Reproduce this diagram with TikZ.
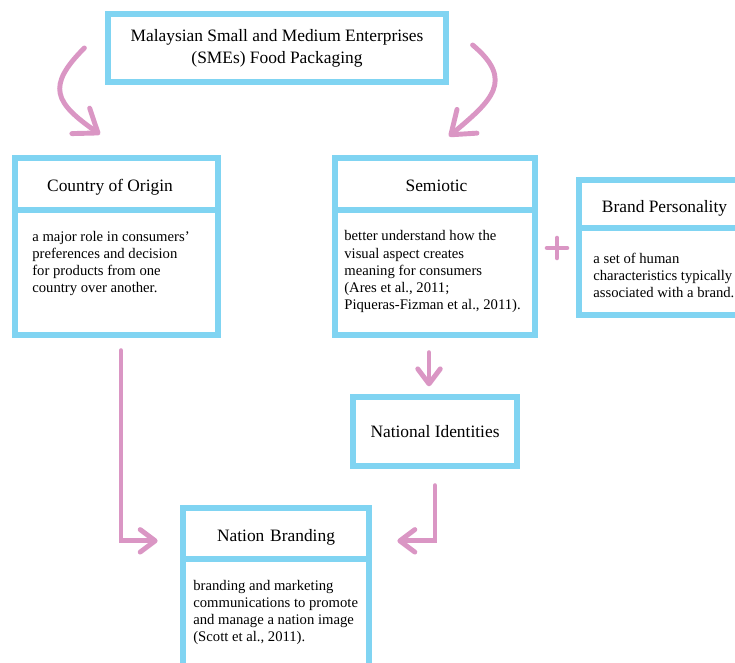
\documentclass[tikz,border=0pt]{standalone}
\usepackage{fontspec}
\setmainfont{Liberation Serif}
\usetikzlibrary{arrows.meta}

\definecolor{boxblue}{RGB}{128,212,242}
\definecolor{linkpink}{RGB}{218,150,196}

\tikzstyle{frame}=[rectangle, draw=boxblue, line width=3pt, inner sep=0cm]
\tikzstyle{heading}=[inner sep=0cm, anchor=base, align=center,
                     font=\fontsize{9.9}{12.4}\selectfont]
\tikzstyle{blurb}=[inner sep=0cm, anchor=base west, align=left,
                   font=\fontsize{8.35}{9.85}\selectfont]
\tikzstyle{divider}=[draw=boxblue, line width=3pt]
\tikzstyle{link}=[draw=linkpink, line width=2.8pt, line cap=round,
                  -{Straight Barb[length=0.3cm, width=0.45cm, round]}]

\begin{document}
\begin{tikzpicture}

  \clip (0, 0) rectangle (14.7, 13.26);

  %%%%%%%%%%%%%%%%%%%%%%%%%%%%%%
  %%%%%%%%%%%%%%%%%%%%%%%%%%%%%%
  % framework

  %%%%%%%%%%%%%%%%%%%%%%%%%%%%%%
  % boxes
  % top
  \node (sme) at (5.54, 12.30) [frame, minimum width=6.76cm, minimum height=1.36cm,
        align=center, font=\fontsize{9.9}{12.4}\selectfont]
        {Malaysian Small and Medium Enterprises\\(SMEs) Food Packaging};

  % country of origin (text anchored at its last line)
  \node (coo) at (2.33, 8.33) [frame, minimum width=4.06cm, minimum height=3.54cm] {};
  \node (coo_title) at (2.2, 9.43) [heading] {Country of Origin};
  \node (coo_text) at (0.64, 7.40) [blurb]
        {a major role in consumers’\\preferences and decision\\for products from one\\country over another.};

  % semiotic
  \node (sem) at (8.70, 8.33) [frame, minimum width=4.0cm, minimum height=3.54cm] {};
  \node (sem_title) at (8.73, 9.42) [heading] {Semiotic};
  \node (sem_text) at (6.88, 7.06) [blurb]
        {better understand how the\\visual aspect creates\\meaning for consumers\\(Ares et al., 2011;\\Piqueras-Fizman et al., 2011).};

  % brand personality
  \node (bp) at (13.29, 8.31) [frame, minimum width=3.42cm, minimum height=2.70cm] {};
  \node (bp_title) at (13.29, 9.00) [heading] {Brand Personality};
  \node (bp_text) at (11.86, 7.30) [blurb]
        {a set of human\\characteristics typically\\associated with a brand.};

  % national identities
  \node (ni) at (8.70, 4.63) [frame, minimum width=3.28cm, minimum height=1.38cm,
        font=\fontsize{9.9}{12.4}\selectfont] {National Identities};

  % nation branding
  \node (nb) at (5.52, 1.40) [frame, minimum width=3.72cm, minimum height=3.40cm] {};
  \node (nb_title) at (5.52, 2.42) [heading, text width=3.72cm] {Nation Branding};
  \node (nb_text) at (3.86, 0.42) [blurb]
        {branding and marketing\\communications to promote\\and manage a nation image\\(Scott et al., 2011).};

  % dividers
  \draw [divider] (coo.west |- 0, 9.06) to (coo.east |- 0, 9.06);
  \draw [divider] (sem.west |- 0, 9.06) to (sem.east |- 0, 9.06);
  \draw [divider] (bp.west |- 0, 8.70) to (bp.east |- 0, 8.70);
  \draw [divider] (nb.west |- 0, 2.08) to (nb.east |- 0, 2.08);

  % plus
  \coordinate (plus) at (11.14, 8.30);
  \draw [draw=linkpink, line width=2.6pt, line cap=round]
        ([yshift=0.2cm]plus) to ([yshift=-0.2cm]plus)
        ([xshift=-0.2cm]plus) to ([xshift=0.2cm]plus);

  %%%%%%%%%%%%%%%%%%%%%%%%%%%%%%
  % links
  \draw [link, -{Straight Barb[length=0.42cm, width=0.62cm, round]}]
        ([xshift=-0.42cm]sme.west) to [out=225, in=145, looseness=1.6]
        ([xshift=-0.33cm, yshift=0.42cm]coo.north);

  \draw [link, -{Straight Barb[length=0.42cm, width=0.62cm, round]}]
        ([xshift=0.48cm, yshift=0.06cm]sme.east) to [out=-40, in=40, looseness=1.5]
        ([xshift=0.28cm, yshift=0.38cm]sem.north);

  \draw [link, shorten <=0.30cm, shorten >=0.16cm]
        ([xshift=-0.12cm]sem.south) to ([xshift=-0.12cm]ni.north);

  \draw [link, shorten <=0.26cm, shorten >=0.50cm]
        ([xshift=0.09cm]coo.south) |- ([yshift=-0.06cm]nb_title.west);

  \draw [link, shorten <=0.34cm, shorten >=0.56cm]
        (ni.south) |- ([yshift=-0.06cm]nb_title.east);

\end{tikzpicture}
\end{document}
